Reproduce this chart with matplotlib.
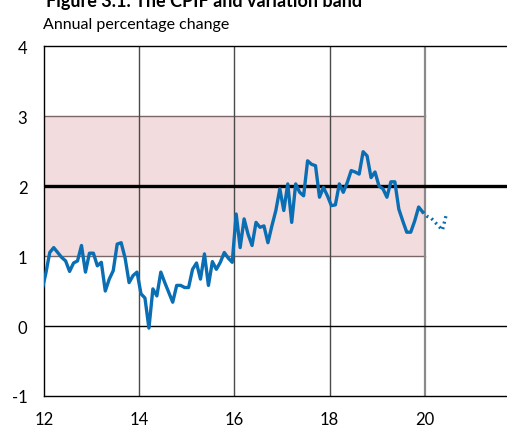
import matplotlib
matplotlib.use("Agg")
import matplotlib.pyplot as plt
import numpy as np

plt.rcParams['font.family'] = ['Lato', 'DejaVu Sans']

# Monthly CPIF outcomes, Dec 2011 .. Dec 2019 (annual % change)
cpif = [0.50,
        0.75, 1.05, 1.12, 1.05, 0.98, 0.93, 0.78, 0.90, 0.93, 1.15, 0.77, 1.04,
        1.04, 0.86, 0.91, 0.50, 0.67, 0.79, 1.17, 1.19, 0.97, 0.62, 0.72, 0.77,
        0.46, 0.40, -0.03, 0.53, 0.43, 0.77, 0.62, 0.48, 0.34, 0.58, 0.58, 0.55,
        0.55, 0.81, 0.90, 0.67, 1.03, 0.58, 0.92, 0.81, 0.91, 1.05, 0.97, 0.91,
        1.60, 1.12, 1.53, 1.31, 1.15, 1.48, 1.41, 1.43, 1.19, 1.43, 1.65, 1.96,
        1.65, 2.03, 1.48, 2.03, 1.91, 1.86, 2.36, 2.31, 2.29, 1.84, 1.98, 1.86,
        1.72, 1.73, 2.03, 1.91, 2.05, 2.22, 2.20, 2.17, 2.49, 2.43, 2.12, 2.20,
        2.00, 1.96, 1.84, 2.06, 2.06, 1.67, 1.50, 1.34, 1.34, 1.50, 1.70, 1.63]
cpif_start_year, cpif_start_month = 2011, 12

# Forecast, Dec 2019 .. Jun 2020
forecast = [1.63, 1.57, 1.55, 1.49, 1.43, 1.37, 1.60]
fc_start_year, fc_start_month = 2019, 12

band_low, band_high = 1.0, 3.0
band_start, band_end = 12, 20
target = 2.0

xticks = [12, 14, 16, 18, 20]
yticks = [-1, 0, 1, 2, 3, 4]

def to_t(y, m, n):
    idx = np.arange(n)
    months = (m - 1) + idx
    return (y - 2000) + (months + 0.45) / 12.0

W, H = 507, 427
fig = plt.figure(figsize=(W / 100, H / 100), dpi=100)
left, right, top, bottom = 44, 507, 47, 397
ax = fig.add_axes([left / W, (H - bottom) / H, (right - left) / W, (bottom - top) / H])

xmax = 12 + (right - left) / 47.6
ax.set_xlim(12, xmax)
ax.set_ylim(-1, 4)

blue = '#0a6eb4'

ax.fill_between([band_start, band_end], band_low, band_high, color='#f2dcdd', lw=0, zorder=0)
ax.plot([band_start, band_end], [band_low, band_low], color='#7a6666', lw=1.0, zorder=1)
ax.plot([band_start, band_end], [band_high, band_high], color='#7a6666', lw=1.0, zorder=1)

for x in xticks[1:-1]:
    ax.axvline(x, color='#4a4a4a', lw=1.0, zorder=1)
ax.axvline(xticks[-1], color='#8a8a8a', lw=1.6, zorder=1)
ax.axhline(0, color='black', lw=1.0, zorder=1)
ax.axhline(target, color='black', lw=2.4, zorder=2)

t = to_t(cpif_start_year, cpif_start_month, len(cpif))
ax.plot(t, cpif, color=blue, lw=2.4, zorder=3, solid_joinstyle='round')
tf = to_t(fc_start_year, fc_start_month, len(forecast))
ax.plot(tf, forecast, color=blue, lw=2.4, ls=(0, (0.6, 1.1)), zorder=3)

ax.spines['right'].set_visible(False)
for s in ['left', 'top', 'bottom']:
    ax.spines[s].set_color('black')
    ax.spines[s].set_linewidth(1.0)

ax.set_xticks(xticks)
ax.set_yticks(yticks)
ax.set_xticklabels([str(v) for v in xticks])
ax.set_yticklabels([str(v) for v in yticks])
ax.tick_params(axis='both', length=0, labelsize=12, colors='black')
ax.tick_params(axis='y', pad=12)
ax.tick_params(axis='x', pad=11)

fig.text(46 / W, 1 - 6.5 / H, 'Figure 3.1. The CPIF and variation band', fontsize=13,
         fontweight='bold', ha='left', va='baseline')
fig.text(43 / W, 1 - 29 / H, 'Annual percentage change', fontsize=11.5,
         ha='left', va='baseline')

fig.savefig('out.png', dpi=100)
